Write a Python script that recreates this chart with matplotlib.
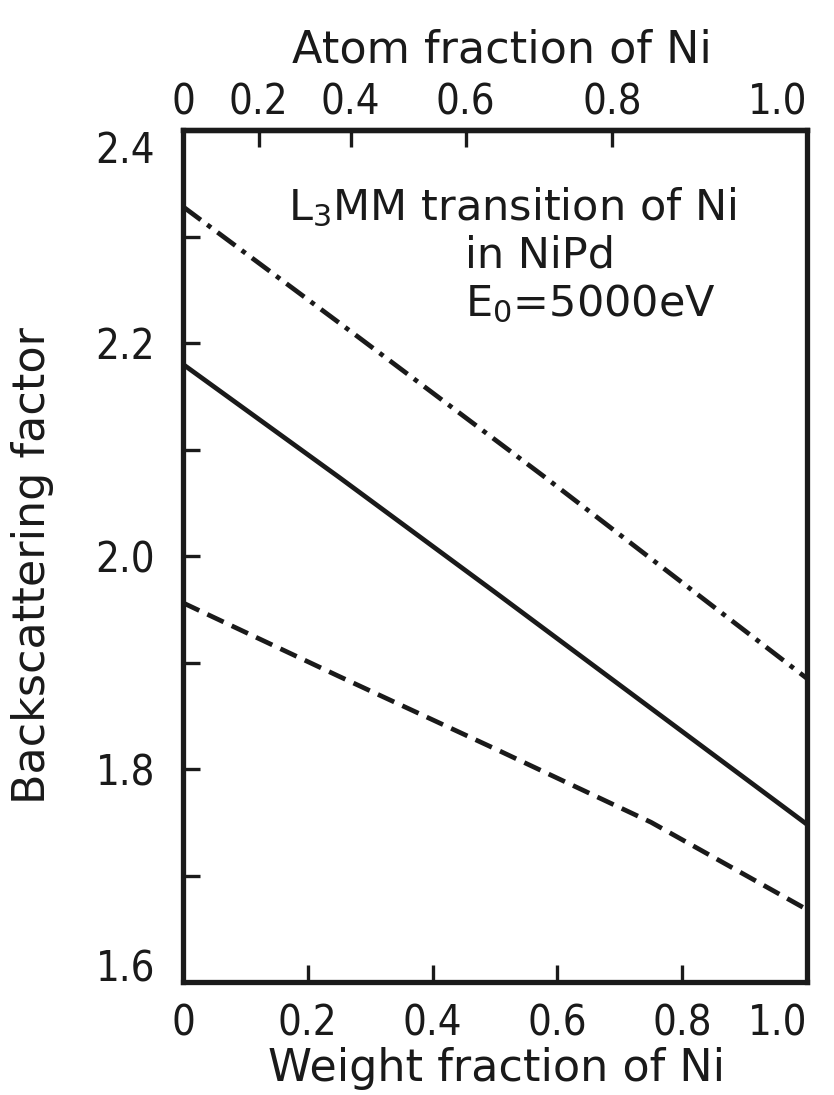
import numpy as np
import matplotlib
matplotlib.use('Agg')
import matplotlib.pyplot as plt

# curvas (fraccion en peso de Ni -> factor)
w_solid = [0.0, 0.25, 0.5, 0.75, 1.0]
b_solid = [2.180, 2.074, 1.966, 1.857, 1.748]
w_dashdot = [0.0, 0.28, 0.58, 1.0]
b_dashdot = [2.328, 2.206, 2.074, 1.885]
w_dashed = [0.0, 0.25, 0.5, 0.75, 1.0]
b_dashed = [1.956, 1.887, 1.819, 1.750, 1.668]

x_ticks = [0, 0.2, 0.4, 0.6, 0.8, 1.0]
x_labels = ['0', '0.2', '0.4', '0.6', '0.8', '1.0']
y_major = [1.6, 1.8, 2.0, 2.2, 2.4]
y_minor = [1.7, 1.9, 2.1, 2.3]
y_labels = ['1.6', '1.8', '2.0', '2.2', '2.4']

# masas atomicas para el eje superior
M_NI = 58.69
M_PD = 106.42

def w2x(w):
    w = np.clip(np.asarray(w, dtype=float), 0, 1)
    a = w / M_NI
    b = (1 - w) / M_PD
    return a / np.maximum(a + b, 1e-12)

def x2w(x):
    x = np.clip(np.asarray(x, dtype=float), 0, 1)
    a = x * M_NI
    b = (1 - x) * M_PD
    return a / np.maximum(a + b, 1e-12)

plt.rcParams['font.family'] = ['DejaVu Sans']
plt.rcParams['font.stretch'] = 'condensed'
plt.rcParams['mathtext.default'] = 'regular'
FS = 30   # numeros
FT = 31   # textos
FL = 32   # titulos de ejes
INK = '#1a1a1a'

fig = plt.figure(figsize=(8.34, 10.95), dpi=100)
ax = fig.add_axes([183/834, 1-982/1095, 624/834, 852/1095])

lw = 3.4
ax.plot(w_solid, b_solid, color=INK, lw=lw, solid_capstyle='butt')
ax.plot(w_dashdot, b_dashdot, color=INK, lw=lw,
        linestyle=(0, (4.7, 1.7, 1.0, 1.7)))
ax.plot(w_dashed, b_dashed, color=INK, lw=lw,
        linestyle=(0, (3.8, 1.9)))

ax.set_xlim(0, 1)
ax.set_ylim(1.6, 2.4)
for s in ax.spines.values():
    s.set_linewidth(3.8)
    s.set_color(INK)

ax.set_xticks(x_ticks)
ax.set_xticklabels(x_labels)
ax.set_yticks(y_major)
ax.set_yticklabels(y_labels)
ax.set_yticks(y_minor, minor=True)
ax.tick_params(axis='both', which='both', direction='in', length=12,
               width=2.4, color=INK, labelsize=FS, labelcolor=INK,
               top=False, right=False)
ax.tick_params(axis='x', pad=15)
ax.tick_params(axis='y', pad=20)
ylabs = ax.get_yticklabels()
ylabs[0].set_va('baseline')
ylabs[-1].set_va('top')
ax.get_xticklabels()[-1].set_ha('right')

# eje superior en fraccion atomica
sec = ax.secondary_xaxis('top', functions=(w2x, x2w))
sec.set_xticks(x_ticks)
sec.set_xticklabels(x_labels)
sec.tick_params(direction='in', length=12, width=2.4, color=INK,
                labelsize=FS, labelcolor=INK, pad=5)
sec.spines['top'].set_linewidth(3.8)
sec.get_xticklabels()[-1].set_ha('right')

fig.text(502/834, 1-50/1095, 'Atom fraction of Ni', fontsize=FL,
         fontstretch='normal', ha='center', va='center', color=INK)
fig.text(497/834, 1-1068/1095, 'Weight fraction of Ni', fontsize=FL,
         fontstretch='normal', ha='center', va='center', color=INK)
fig.text(33/834, 1-565/1095, 'Backscattering factor', fontsize=FL,
         fontstretch='normal', rotation=90, ha='center', va='center', color=INK)

ax.text(288/834, 1-220/1095, r'L$_3$MM transition of Ni', fontsize=FT,
        fontstretch='normal', transform=fig.transFigure, ha='left',
        va='baseline', color=INK)
ax.text(465/834, 1-268/1095, 'in NiPd', fontsize=FT, fontstretch='normal',
        transform=fig.transFigure, ha='left', va='baseline', color=INK)
ax.text(465/834, 1-316/1095, r'E$_0$=5000eV', fontsize=FT,
        fontstretch='normal', transform=fig.transFigure, ha='left',
        va='baseline', color=INK)

fig.savefig('out.png', dpi=100, facecolor='white')
